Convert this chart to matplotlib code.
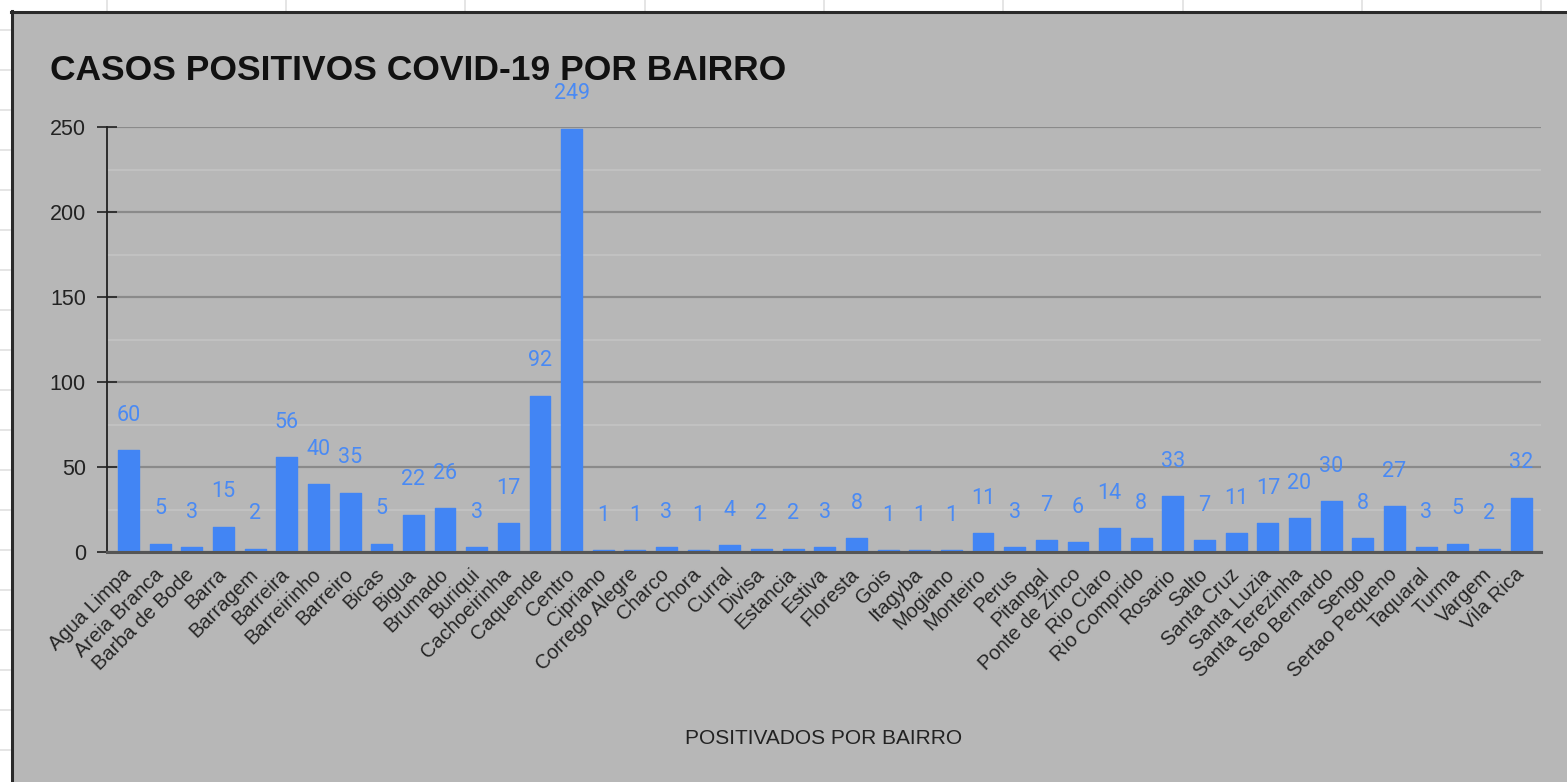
import matplotlib
matplotlib.use("Agg")
import matplotlib.pyplot as plt
from matplotlib.patches import Rectangle
from matplotlib.lines import Line2D
from matplotlib.ticker import MultipleLocator
from matplotlib.transforms import ScaledTranslation

bairros = [
    "Agua Limpa", "Areia Branca", "Barba de Bode", "Barra", "Barragem",
    "Barreira", "Barreirinho", "Barreiro", "Bicas", "Bigua", "Brumado",
    "Buriqui", "Cachoeirinha", "Caquende", "Centro", "Cipriano",
    "Corrego Alegre", "Charco", "Chora", "Curral", "Divisa", "Estancia",
    "Estiva", "Floresta", "Gois", "Itagyba", "Mogiano", "Monteiro", "Perus",
    "Pitangal", "Ponte de Zinco", "Rio Claro", "Rio Comprido", "Rosario",
    "Salto", "Santa Cruz", "Santa Luzia", "Santa Terezinha", "Sao Bernardo",
    "Sengo", "Sertao Pequeno", "Taquaral", "Turma", "Vargem", "Vila Rica",
]
casos = [60, 5, 3, 15, 2, 56, 40, 35, 5, 22, 26, 3, 17, 92, 249, 1, 1, 3, 1,
         4, 2, 2, 3, 8, 1, 1, 1, 11, 3, 7, 6, 14, 8, 33, 7, 11, 17, 20, 30, 8,
         27, 3, 5, 2, 32]
y_ticks = [0, 50, 100, 150, 200, 250]

W, H = 1567, 782
BG = "#b7b7b7"
BLUE = "#4285f4"

plt.rcParams["font.family"] = ["Liberation Sans", "DejaVu Sans"]

fig = plt.figure(figsize=(W / 100, H / 100), dpi=100)
fig.patch.set_facecolor("white")

# spreadsheet grid behind the chart
for gx in [107, 286, 465, 645, 824, 1003, 1183, 1362, 1541]:
    fig.add_artist(Line2D([gx / W, gx / W], [1, 1 - 11 / H], transform=fig.transFigure,
                          color="#e0e0e0", lw=1.2))
for gy in range(30, 782, 40):
    fig.add_artist(Line2D([0, 10 / W], [1 - gy / H, 1 - gy / H], transform=fig.transFigure,
                          color="#e0e0e0", lw=1.2))

# chart panel
fig.add_artist(Rectangle((11 / W, 0), 1, 1 - 11 / H, transform=fig.transFigure,
                         facecolor=BG, edgecolor="none", zorder=0))
fig.add_artist(Line2D([11 / W, 1], [1 - 12 / H, 1 - 12 / H], transform=fig.transFigure,
                      color="#2a2a2a", lw=2.2))
fig.add_artist(Line2D([12 / W, 12 / W], [0, 1 - 11 / H], transform=fig.transFigure,
                      color="#2a2a2a", lw=2.2))

ax = fig.add_axes([107 / W, 1 - 552 / H, (1541 - 107) / W, (552 - 127) / H])
ax.set_facecolor(BG)

x = list(range(len(bairros)))
ax.bar(x, casos, width=0.66, color=BLUE, edgecolor=BLUE, linewidth=1,
       joinstyle="round", zorder=3)

for i, v in zip(x, casos):
    ax.annotate(str(v), (i, v), xytext=(0, 25), textcoords="offset points",
                ha="center", va="center", color="#4a8af4", fontsize=15.5,
                family=["Roboto", "DejaVu Sans"], annotation_clip=False, zorder=4)

ax.set_xlim(-0.68, len(bairros) - 1 + 0.63)
ax.set_ylim(0, 250)
ax.set_yticks(y_ticks)
ax.yaxis.set_minor_locator(MultipleLocator(25))
ax.set_xticks(x)
ax.set_xticklabels(bairros, rotation=45, ha="right", va="center",
                   rotation_mode="anchor", fontsize=14.5, color="#262626")
shift = ScaledTranslation(5 / 72, -2 / 72, fig.dpi_scale_trans)
for lbl in ax.get_xticklabels():
    lbl.set_transform(lbl.get_transform() + shift)

ax.tick_params(axis="x", length=0, pad=14)
ax.tick_params(axis="y", which="major", direction="inout", length=14.5, width=1.2,
               color="#222222", labelsize=15.5, labelcolor="#222222", pad=8)
ax.tick_params(axis="y", which="minor", length=0)

ax.grid(axis="y", which="major", color="#8a8a8a", lw=1.6, zorder=1)
ax.grid(axis="y", which="minor", color="#c4c4c4", lw=1.2, zorder=1)
ax.set_axisbelow(True)

for s in ["top", "right"]:
    ax.spines[s].set_visible(False)
ax.spines["left"].set_color("#222222")
ax.spines["left"].set_linewidth(1.3)
ax.spines["bottom"].set_color("#555555")
ax.spines["bottom"].set_linewidth(2.2)
ax.spines["bottom"].set_zorder(5)

ax.set_xlabel("POSITIVADOS POR BAIRRO", fontsize=15, color="#222222")
ax.xaxis.set_label_coords(0.5, (552 - 738) / (552 - 127))
ax.xaxis.label.set_va("center")

fig.text(50 / W, 1 - 70 / H, "CASOS POSITIVOS COVID-19 POR BAIRRO",
         fontsize=25.5, fontweight="bold", color="#111111", va="center", ha="left")

fig.savefig("out.png", dpi=100, facecolor=fig.get_facecolor())
